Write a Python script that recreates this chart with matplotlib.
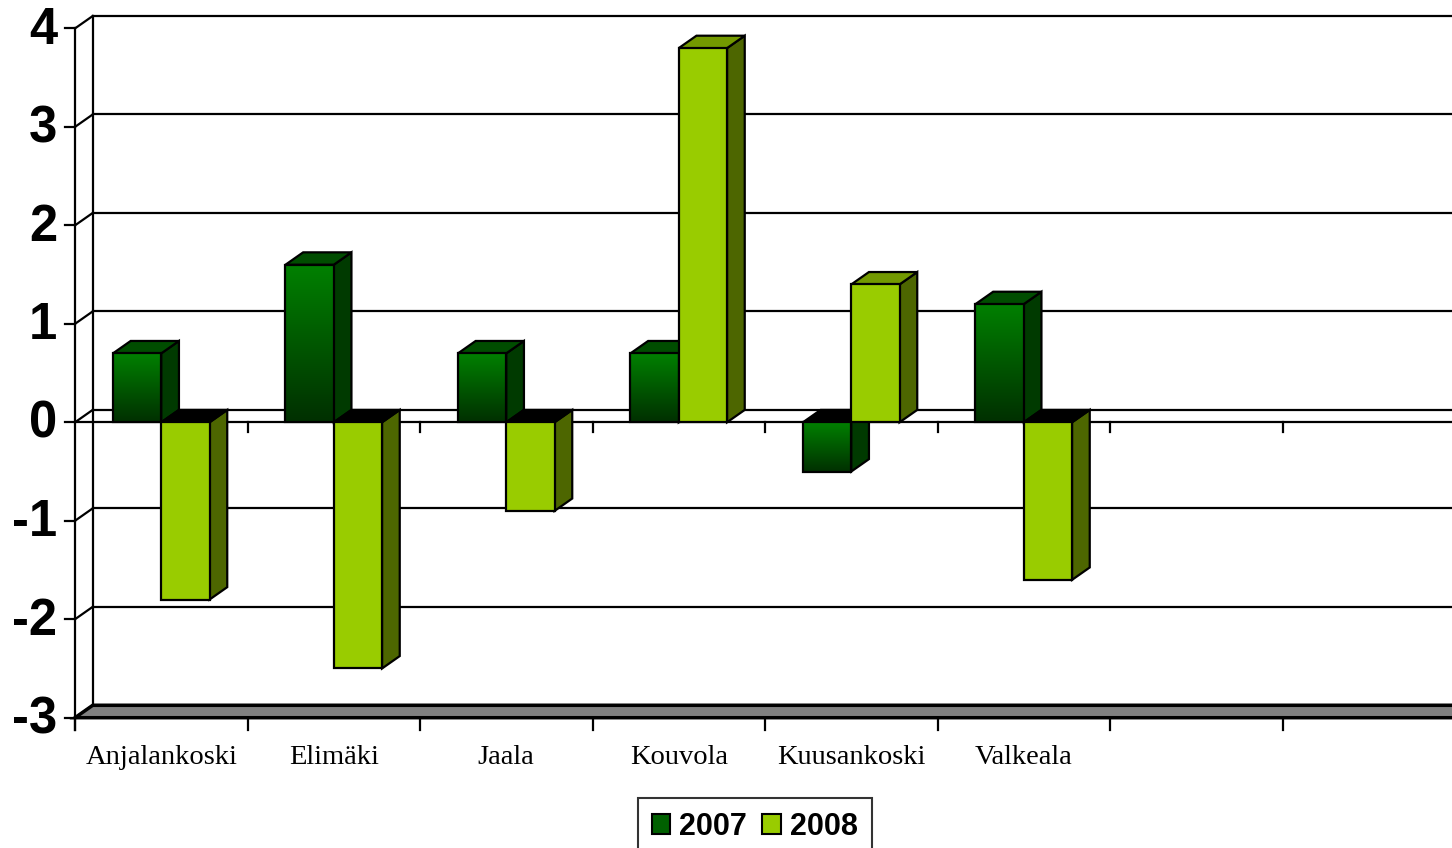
import matplotlib.pyplot as plt
import numpy as np
from matplotlib.patches import Polygon, Rectangle

# data
kunnat = ['Anjalankoski', 'Elimäki', 'Jaala', 'Kouvola', 'Kuusankoski', 'Valkeala', '', '']
v2007 = [0.7, 1.6, 0.7, 0.7, -0.5, 1.2]
v2008 = [-1.8, -2.5, -0.9, 3.8, 1.4, -1.6]
yticks = [4, 3, 2, 1, 0, -1, -2, -3]

# fake 3d depth (in data units)
ddx, ddy = 0.1026, 0.126
bw = 0.28
ymin, ymax = -3, 4
ncat = len(kunnat)

fig = plt.figure(figsize=(14.52, 8.48), dpi=100)
ax = fig.add_axes([0, 0, 1, 1])
ax.set_axis_off()

lw = 1.6
# back wall gridlines + left wall diagonals
for t in yticks:
    ax.plot([ddx, ncat + ddx], [t + ddy, t + ddy], color='black', lw=lw, zorder=1)
    ax.plot([0, ddx], [t, t + ddy], color='black', lw=lw, zorder=1)
    ax.plot([-0.058, 0], [t, t], color='black', lw=lw, zorder=1)
ax.plot([ddx, ddx], [ymin + ddy, ymax + ddy], color='black', lw=lw, zorder=1)
ax.plot([0, 0], [ymin - 0.12, ymax], color='black', lw=lw, zorder=1)

# floor
floor = Polygon([(0, ymin), (ncat + 1, ymin), (ncat + 1 + ddx, ymin + ddy), (ddx, ymin + ddy)],
                closed=True, facecolor='#808080', edgecolor='black', lw=2.5, zorder=1)
ax.add_patch(floor)

# zero plane front line and ticks
ax.plot([0, ncat + 1], [0, 0], color='black', lw=lw, zorder=1)
for i in range(ncat):
    ax.plot([i, i], [ymin, ymin - 0.12], color='black', lw=lw, zorder=1)
    if i > 0:
        ax.plot([i, i], [0, -0.1], color='black', lw=lw, zorder=1)

def draw_bar(x0, v, front, side, top, grad=None, z=2):
    x1 = x0 + bw
    lo, hi = min(0, v), max(0, v)
    # side face
    ax.add_patch(Polygon([(x1, lo), (x1, hi), (x1 + ddx, hi + ddy), (x1 + ddx, lo + ddy)],
                         closed=True, facecolor=side, edgecolor='black', lw=lw, zorder=z))
    # top face
    tcol = top if v >= 0 else 'black'
    ax.add_patch(Polygon([(x0, hi), (x1, hi), (x1 + ddx, hi + ddy), (x0 + ddx, hi + ddy)],
                         closed=True, facecolor=tcol, edgecolor='black', lw=lw, zorder=z))
    # front face
    if grad is not None:
        g = np.linspace(0, 1, 64)[:, None]
        c0 = np.array(grad[0])
        c1 = np.array(grad[1])
        img = (c0[None, None, :] * (1 - g[..., None]) + c1[None, None, :] * g[..., None])
        img = np.repeat(img, 2, axis=1)
        ax.imshow(img, extent=[x0, x1, lo, hi], aspect='auto', origin='upper', zorder=z,
                  interpolation='bilinear')
        ax.add_patch(Rectangle((x0, lo), bw, hi - lo, fill=False, edgecolor='black', lw=lw, zorder=z))
    else:
        ax.add_patch(Rectangle((x0, lo), bw, hi - lo, facecolor=front, edgecolor='black', lw=lw, zorder=z))

green_top = (0 / 255, 128 / 255, 0 / 255)
green_bot = (0 / 255, 48 / 255, 0 / 255)
for i in range(len(v2007)):
    draw_bar(i + 0.22, v2007[i], None, '#003a00', '#004d00', grad=(green_top, green_bot), z=2 + i * 2)
    draw_bar(i + 0.5, v2008[i], '#99cc00', '#4d6600', '#739900', z=3 + i * 2)

# tick labels
for t in yticks:
    ax.text(-0.105, t - 0.02, str(t), ha='right', va='center', fontsize=36.5, fontweight='bold',
            family='Liberation Sans')
for i, k in enumerate(kunnat):
    ax.text(i + 0.5, ymin - 0.4, k, ha='center', va='center', fontsize=20.5,
            family='Liberation Serif')

ax.set_xlim(-75 / 172.5, 1377 / 172.5)
ax.set_ylim((422.3 - 848) / 98.47, 422.3 / 98.47)

handles = [Rectangle((0, 0), 1, 1, facecolor='#006000', edgecolor='black', lw=1.5),
           Rectangle((0, 0), 1, 1, facecolor='#99cc00', edgecolor='black', lw=1.5)]
leg = fig.legend(handles, ['2007', '2008'], loc='upper left', bbox_to_anchor=(638 / 1452, 1 - 798 / 848),
                 ncol=2, frameon=True, fancybox=False, edgecolor='black', borderaxespad=0,
                 handlelength=0.6, handleheight=0.6, handletextpad=0.3, columnspacing=0.5,
                 borderpad=0.45, prop={'family': 'Liberation Sans', 'weight': 'bold', 'size': 22})
leg.get_frame().set_linewidth(1.5)

fig.savefig('out.png', dpi=100)
